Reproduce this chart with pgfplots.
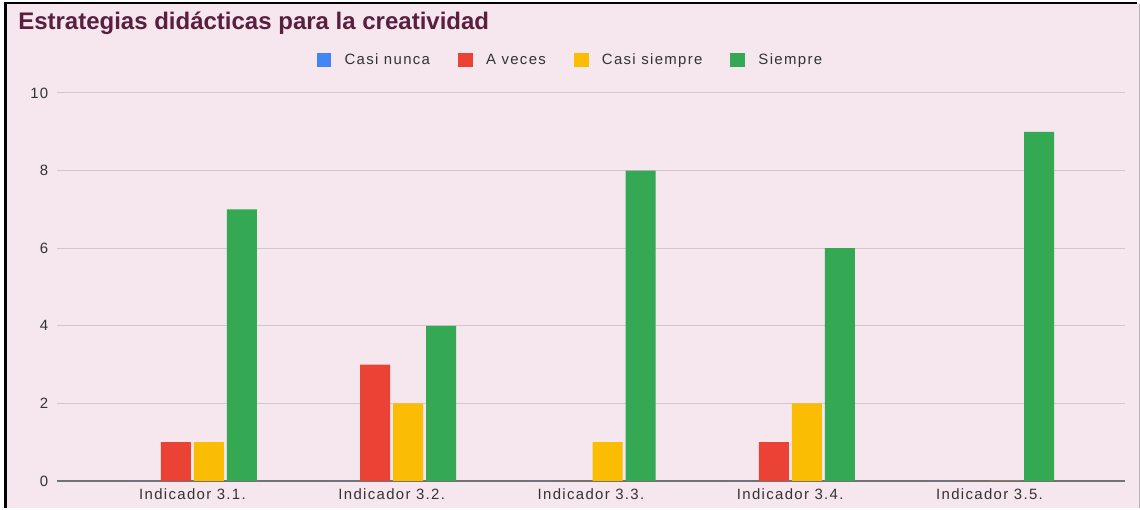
\documentclass[border=0pt]{standalone}
\usepackage{pgfplots}
\pgfplotsset{compat=1.18}
\usepackage{fontspec}
\setmainfont{Liberation Sans}
\newfontfamily\gfont[LetterSpace=9]{Liberation Sans}
\definecolor{bgpink}{HTML}{F6E6EE}
\definecolor{cblue}{HTML}{4285F4}
\definecolor{cred}{HTML}{EA4335}
\definecolor{cyellow}{HTML}{FBBC04}
\definecolor{cgreen}{HTML}{34A853}
\definecolor{titlec}{HTML}{5A1F3F}
\definecolor{gridc}{HTML}{D3C6CC}
\definecolor{txtc}{HTML}{333333}
\begin{document}
\begin{tikzpicture}
\begin{scope}[x=0.75pt,y=0.75pt]
\fill[white] (0,0) rectangle (1140,508);
\fill[bgpink] (5,0) rectangle (1139,505);
\draw[black,line width=2.2pt] (5.5,0) -- (5.5,505) -- (1137,505);
\draw[gray!60,line width=0.75pt] (1139,0) -- (1139,504);
\node[anchor=base west,inner sep=0pt,text=titlec,font={\fontsize{18}{20}\selectfont\bfseries}] at (18,478) {Estrategias didácticas para la creatividad};
\end{scope}
\begin{axis}[
  at={(42.75pt,20.25pt)}, anchor=south west,
  scale only axis, width=801pt, height=291pt,
  ybar=2.25pt, bar width=22.5pt,
  xmin=-0.68, xmax=4.68, ymin=0, ymax=10,
  xtick={0,1,2,3,4},
  xticklabels={Indicador 3.1.,Indicador 3.2.,Indicador 3.3.,Indicador 3.4.,Indicador 3.5.},
  ytick={0,2,4,6,8,10},
  ymajorgrids, grid style={gridc, line width=0.75pt},
  axis x line*=bottom, axis y line*=left,
  x axis line style={draw=gray!90!black, line width=1pt, -},
  y axis line style={draw=none},
  major tick length=0pt,
  tick label style={font={\gfont\fontsize{11.2}{13}\selectfont}, text=txtc},
  /pgf/number format/assume math mode=true,
  xticklabel style={yshift=-2.5pt},
  yticklabel style={xshift=-3pt},
  legend columns=4,
  legend style={at={(0.481,1.085)}, anchor=center, draw=none, fill=none,
    font={\gfont\fontsize{11.2}{13}\selectfont}, text=txtc,
    /tikz/every odd column/.append style={column sep=8pt},
    /tikz/every even column/.append style={column sep=19pt}},
  legend image code/.code={\fill[#1] (0pt,-5.5pt) rectangle (11pt,5.5pt);},
]
\addplot[fill=cblue, draw=none] coordinates {(0,0) (1,0) (2,0) (3,0) (4,0)};
\addplot[fill=cred, draw=none] coordinates {(0,1) (1,3) (2,0) (3,1) (4,0)};
\addplot[fill=cyellow, draw=none] coordinates {(0,1) (1,2) (2,1) (3,2) (4,0)};
\addplot[fill=cgreen, draw=none] coordinates {(0,7) (1,4) (2,8) (3,6) (4,9)};
\legend{Casi nunca, A veces, Casi siempre, Siempre}
\end{axis}
\end{tikzpicture}
\end{document}
